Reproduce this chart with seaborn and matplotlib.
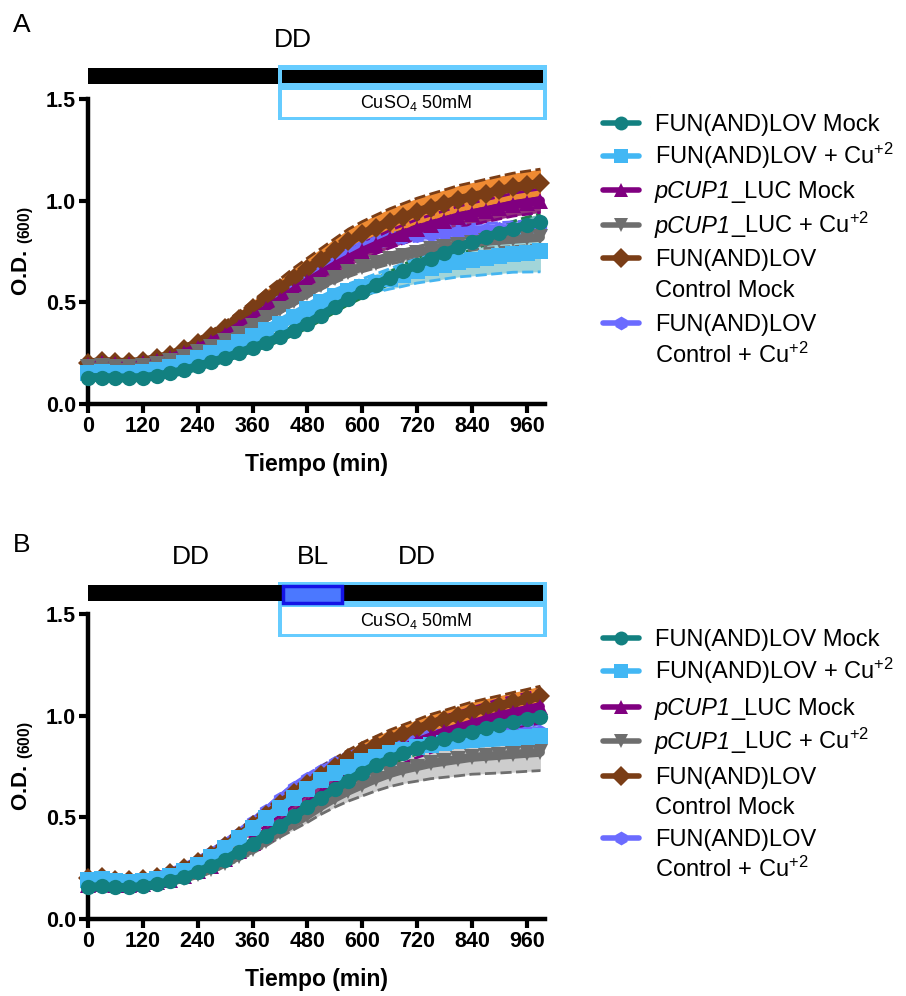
import numpy as np
import pandas as pd
import matplotlib
matplotlib.use("Agg")
import matplotlib.pyplot as plt
import seaborn as sns
from matplotlib.patches import Rectangle
from matplotlib.lines import Line2D
from matplotlib.transforms import blended_transform_factory

sns.set_theme(style="ticks")
plt.rcParams["font.family"] = ["Liberation Sans", "DejaVu Sans"]
plt.rcParams["mathtext.fontset"] = "custom"
plt.rcParams["mathtext.rm"] = "Liberation Sans"
plt.rcParams["mathtext.it"] = "Liberation Sans:italic"
plt.rcParams["mathtext.bf"] = "Liberation Sans:bold"
for k in ["text.color", "axes.labelcolor", "xtick.color", "ytick.color", "axes.edgecolor"]:
    plt.rcParams[k] = "black"

# ---------------- data ----------------
times = [0, 30, 60, 90, 120, 150, 180, 210, 240, 270, 300, 330, 360, 390, 420, 450, 480,
         510, 540, 570, 600, 630, 660, 690, 720, 750, 780, 810, 840, 870, 900, 930, 960, 990]

series = ["FUN(AND)LOV Mock", "FUN(AND)LOV + Cu+2", "pCUP1_LUC Mock",
          "pCUP1_LUC + Cu+2", "FUN(AND)LOV Control Mock", "FUN(AND)LOV Control + Cu+2"]

x_ticks = [0, 120, 240, 360, 480, 600, 720, 840, 960]
y_ticks = [0.0, 0.5, 1.0, 1.5]
y_tick_labels = ["0.0", "0.5", "1.0", "1.5"]

cu_start = 416      # CuSO4 added (min)
bl_start = 427      # blue light pulse (panel B)
bl_end = 556

# Panel A means
A_fun_mock = [0.130, 0.130, 0.128, 0.128, 0.130, 0.138, 0.150, 0.165, 0.185, 0.205, 0.225, 0.250,
              0.275, 0.300, 0.330, 0.360, 0.395, 0.435, 0.475, 0.515, 0.550, 0.585, 0.620, 0.655,
              0.685, 0.715, 0.745, 0.770, 0.795, 0.820, 0.840, 0.860, 0.880, 0.895]
A_fun_cu = [0.150, 0.155, 0.150, 0.150, 0.155, 0.165, 0.180, 0.200, 0.225, 0.250, 0.275, 0.305,
            0.335, 0.365, 0.395, 0.430, 0.465, 0.500, 0.530, 0.555, 0.575, 0.595, 0.615, 0.635,
            0.655, 0.670, 0.685, 0.700, 0.710, 0.720, 0.730, 0.740, 0.745, 0.750]
A_pcup_mock = [0.190, 0.200, 0.195, 0.195, 0.200, 0.210, 0.225, 0.250, 0.275, 0.305, 0.340, 0.380,
               0.420, 0.465, 0.510, 0.555, 0.600, 0.640, 0.680, 0.715, 0.750, 0.780, 0.810, 0.835,
               0.860, 0.880, 0.900, 0.920, 0.935, 0.950, 0.965, 0.980, 0.990, 1.000]
A_pcup_cu = [0.180, 0.185, 0.180, 0.180, 0.185, 0.195, 0.210, 0.230, 0.255, 0.280, 0.310, 0.345,
             0.385, 0.425, 0.465, 0.505, 0.545, 0.585, 0.620, 0.650, 0.675, 0.695, 0.715, 0.730,
             0.745, 0.760, 0.770, 0.780, 0.790, 0.800, 0.805, 0.810, 0.815, 0.820]
A_ctrl_mock = [0.200, 0.210, 0.205, 0.205, 0.210, 0.225, 0.240, 0.270, 0.300, 0.335, 0.375, 0.420,
               0.470, 0.520, 0.570, 0.620, 0.665, 0.710, 0.755, 0.800, 0.835, 0.865, 0.895, 0.920,
               0.945, 0.965, 0.985, 1.005, 1.020, 1.035, 1.050, 1.065, 1.075, 1.085]
A_ctrl_cu = [0.170, 0.175, 0.170, 0.170, 0.175, 0.185, 0.210, 0.235, 0.265, 0.300, 0.340, 0.385,
             0.430, 0.475, 0.520, 0.570, 0.620, 0.665, 0.705, 0.740, 0.770, 0.795, 0.810, 0.822,
             0.830, 0.838, 0.843, 0.848, 0.852, 0.856, 0.860, 0.863, 0.866, 0.870]

# Panel A SDs
A_fun_mock_sd = [0.010, 0.010, 0.010, 0.010, 0.010, 0.011, 0.011, 0.012, 0.013, 0.014, 0.015, 0.016,
                 0.017, 0.018, 0.020, 0.021, 0.022, 0.024, 0.025, 0.026, 0.028, 0.029, 0.030, 0.031,
                 0.032, 0.033, 0.034, 0.035, 0.036, 0.037, 0.038, 0.038, 0.039, 0.040]
A_fun_cu_sd = [0.010, 0.010, 0.010, 0.010, 0.010, 0.011, 0.012, 0.013, 0.014, 0.015, 0.016, 0.018,
               0.020, 0.022, 0.024, 0.026, 0.028, 0.030, 0.033, 0.036, 0.040, 0.045, 0.050, 0.056,
               0.060, 0.065, 0.070, 0.075, 0.080, 0.084, 0.088, 0.092, 0.096, 0.100]
A_pcup_mock_sd = [0.010, 0.010, 0.010, 0.010, 0.010, 0.011, 0.012, 0.013, 0.015, 0.017, 0.019, 0.021,
                  0.023, 0.025, 0.027, 0.029, 0.031, 0.033, 0.035, 0.037, 0.039, 0.041, 0.043, 0.045,
                  0.047, 0.049, 0.050, 0.052, 0.053, 0.054, 0.055, 0.056, 0.057, 0.058]
A_pcup_cu_sd = [0.010, 0.010, 0.010, 0.010, 0.010, 0.010, 0.011, 0.012, 0.013, 0.014, 0.015, 0.016,
                0.017, 0.018, 0.019, 0.020, 0.021, 0.022, 0.023, 0.024, 0.025, 0.026, 0.027, 0.028,
                0.029, 0.030, 0.031, 0.032, 0.033, 0.034, 0.035, 0.036, 0.037, 0.038]
A_ctrl_mock_sd = [0.010, 0.010, 0.010, 0.010, 0.011, 0.012, 0.014, 0.016, 0.020, 0.024, 0.028, 0.032,
                  0.036, 0.040, 0.044, 0.048, 0.052, 0.055, 0.058, 0.060, 0.062, 0.064, 0.065, 0.066,
                  0.067, 0.068, 0.068, 0.069, 0.069, 0.070, 0.070, 0.070, 0.070, 0.070]
A_ctrl_cu_sd = [0.010, 0.010, 0.010, 0.010, 0.010, 0.010, 0.011, 0.012, 0.013, 0.014, 0.015, 0.016,
                0.017, 0.018, 0.019, 0.020, 0.021, 0.022, 0.023, 0.024, 0.025, 0.026, 0.027, 0.028,
                0.029, 0.030, 0.030, 0.031, 0.031, 0.032, 0.032, 0.033, 0.033, 0.034]

# Panel B means
B_fun_mock = [0.155, 0.160, 0.155, 0.155, 0.160, 0.170, 0.185, 0.205, 0.230, 0.260, 0.290, 0.330,
              0.370, 0.410, 0.455, 0.505, 0.550, 0.595, 0.640, 0.680, 0.720, 0.755, 0.785, 0.815,
              0.840, 0.865, 0.885, 0.905, 0.920, 0.940, 0.955, 0.970, 0.985, 0.995]
B_fun_cu = [0.190, 0.195, 0.185, 0.180, 0.185, 0.195, 0.210, 0.235, 0.265, 0.305, 0.350, 0.400,
            0.450, 0.495, 0.545, 0.595, 0.640, 0.685, 0.720, 0.750, 0.775, 0.795, 0.815, 0.830,
            0.845, 0.855, 0.865, 0.875, 0.880, 0.885, 0.890, 0.892, 0.895, 0.898]
B_pcup_mock = [0.165, 0.170, 0.165, 0.165, 0.170, 0.180, 0.190, 0.210, 0.235, 0.260, 0.295, 0.335,
               0.375, 0.420, 0.465, 0.510, 0.560, 0.610, 0.655, 0.700, 0.740, 0.780, 0.810, 0.840,
               0.870, 0.895, 0.920, 0.940, 0.960, 0.980, 1.000, 1.015, 1.030, 1.045]
B_pcup_cu = [0.170, 0.175, 0.170, 0.165, 0.170, 0.175, 0.185, 0.200, 0.220, 0.245, 0.275, 0.310,
             0.345, 0.385, 0.430, 0.470, 0.510, 0.555, 0.595, 0.630, 0.660, 0.690, 0.715, 0.735,
             0.750, 0.765, 0.775, 0.785, 0.795, 0.800, 0.805, 0.810, 0.815, 0.820]
B_ctrl_mock = [0.200, 0.205, 0.190, 0.190, 0.195, 0.205, 0.225, 0.250, 0.280, 0.315, 0.360, 0.410,
               0.460, 0.510, 0.565, 0.620, 0.665, 0.710, 0.750, 0.790, 0.825, 0.855, 0.885, 0.910,
               0.935, 0.960, 0.980, 1.000, 1.020, 1.035, 1.050, 1.065, 1.080, 1.095]
B_ctrl_cu = [0.190, 0.200, 0.190, 0.190, 0.195, 0.210, 0.230, 0.255, 0.285, 0.325, 0.370, 0.420,
             0.475, 0.530, 0.590, 0.645, 0.690, 0.730, 0.765, 0.795, 0.820, 0.840, 0.860, 0.875,
             0.885, 0.895, 0.900, 0.905, 0.910, 0.912, 0.915, 0.917, 0.920, 0.922]

# Panel B SDs
B_fun_mock_sd = [0.010, 0.010, 0.010, 0.010, 0.010, 0.011, 0.011, 0.012, 0.013, 0.014, 0.015, 0.016,
                 0.017, 0.018, 0.019, 0.020, 0.021, 0.022, 0.023, 0.024, 0.025, 0.026, 0.027, 0.028,
                 0.029, 0.030, 0.031, 0.032, 0.033, 0.034, 0.035, 0.035, 0.036, 0.036]
B_fun_cu_sd = [0.010, 0.010, 0.010, 0.010, 0.010, 0.010, 0.011, 0.012, 0.013, 0.014, 0.015, 0.016,
               0.017, 0.018, 0.019, 0.020, 0.021, 0.022, 0.023, 0.024, 0.025, 0.026, 0.027, 0.028,
               0.029, 0.030, 0.031, 0.032, 0.033, 0.034, 0.035, 0.036, 0.037, 0.038]
B_pcup_mock_sd = [0.010, 0.010, 0.010, 0.010, 0.010, 0.012, 0.014, 0.016, 0.019, 0.022, 0.026, 0.030,
                  0.035, 0.040, 0.045, 0.050, 0.055, 0.060, 0.064, 0.067, 0.070, 0.072, 0.074, 0.075,
                  0.076, 0.077, 0.078, 0.078, 0.079, 0.079, 0.080, 0.080, 0.080, 0.080]
B_pcup_cu_sd = [0.010, 0.010, 0.010, 0.010, 0.010, 0.011, 0.012, 0.013, 0.014, 0.016, 0.018, 0.020,
                0.022, 0.025, 0.028, 0.031, 0.035, 0.040, 0.045, 0.050, 0.055, 0.060, 0.064, 0.068,
                0.072, 0.075, 0.078, 0.081, 0.083, 0.085, 0.087, 0.088, 0.089, 0.090]
B_ctrl_mock_sd = [0.010, 0.010, 0.010, 0.010, 0.010, 0.011, 0.012, 0.014, 0.016, 0.018, 0.021, 0.024,
                  0.027, 0.030, 0.033, 0.035, 0.037, 0.039, 0.040, 0.041, 0.042, 0.043, 0.044, 0.045,
                  0.045, 0.046, 0.046, 0.047, 0.047, 0.048, 0.048, 0.049, 0.049, 0.050]
B_ctrl_cu_sd = [0.010, 0.010, 0.010, 0.010, 0.010, 0.011, 0.012, 0.013, 0.014, 0.015, 0.016, 0.017,
                0.018, 0.019, 0.020, 0.021, 0.022, 0.023, 0.024, 0.025, 0.026, 0.027, 0.028, 0.029,
                0.030, 0.030, 0.031, 0.031, 0.032, 0.032, 0.033, 0.033, 0.034, 0.034]

A_means = [A_fun_mock, A_fun_cu, A_pcup_mock, A_pcup_cu, A_ctrl_mock, A_ctrl_cu]
A_sds = [A_fun_mock_sd, A_fun_cu_sd, A_pcup_mock_sd, A_pcup_cu_sd, A_ctrl_mock_sd, A_ctrl_cu_sd]
B_means = [B_fun_mock, B_fun_cu, B_pcup_mock, B_pcup_cu, B_ctrl_mock, B_ctrl_cu]
B_sds = [B_fun_mock_sd, B_fun_cu_sd, B_pcup_mock_sd, B_pcup_cu_sd, B_ctrl_mock_sd, B_ctrl_cu_sd]

# ---------------- styles ----------------
line_colors = ["#128080", "#42b7f4", "#800080", "#6e6e6e", "#7a3d16", "#6b6bff"]
fill_colors = ["#70b8b8", "#a2d5d9", "#93307f", "#cdcdcd", "#ef8a32", "#a0a0ff"]
dash_colors = ["#1b7f48", "#45b5f0", "#800080", "#6e6e6e", "#7a3d16", "#6b6bff"]
markers = ["o", "s", "^", "v", "D", "h"]
msizes = [11, 11, 11, 11, 10, 11]
band_order = [0, 5, 2, 3, 1, 4]
line_order = [5, 4, 2, 3, 1, 0]

legend_lines = [
    [("", "FUN(AND)LOV Mock")],
    [("", "FUN(AND)LOV + Cu$^{+2}$")],
    [("pCUP1", "_LUC Mock")],
    [("pCUP1", "_LUC + Cu$^{+2}$")],
    [("", "FUN(AND)LOV"), ("", "Control Mock")],
    [("", "FUN(AND)LOV"), ("", "Control + Cu$^{+2}$")],
]
legend_rows_A = [[123], [156], [190], [225], [258, 289], [323, 355]]
legend_rows_B = [[638], [671], [707], [741], [776, 806], [838, 869]]

W, H = 906, 996
def fx(px):
    return px / W
def fy(py):
    return 1 - py / H

fig = plt.figure(figsize=(W / 100, H / 100), dpi=100)
renderer = fig.canvas.get_renderer()

def legend_text(px, py, it_part, rest):
    x = fx(px)
    if it_part:
        t = fig.text(x, fy(py + 8), it_part, fontsize=17, style="italic", va="baseline", ha="left")
        bb = t.get_window_extent(renderer)
        x = bb.x1 / W
    fig.text(x, fy(py + 8), rest, fontsize=17, va="baseline", ha="left")

def draw_panel(ax_rect, means, sds, legend_rows):
    ax = fig.add_axes(ax_rect)
    t = np.array(times)
    for i in band_order:
        m = np.array(means[i]); s = np.array(sds[i])
        ax.fill_between(t, m - s, m + s, color=fill_colors[i], lw=0, zorder=1, clip_on=False)
    for i in band_order:
        m = np.array(means[i]); s = np.array(sds[i])
        for yy in (m - s, m + s):
            ax.plot(t, yy, color=dash_colors[i], lw=2, ls=(0, (4, 1.6)), zorder=2, clip_on=False)
    for i in line_order:
        df = pd.DataFrame({"time": times, "od": means[i], "series": series[i]})
        sns.lineplot(data=df, x="time", y="od", color=line_colors[i], marker=markers[i],
                     markersize=msizes[i], markeredgewidth=0, linewidth=6.5, errorbar=None,
                     legend=False, ax=ax, zorder=3)
    for ln in ax.lines:
        ln.set_clip_on(False)
    ax.set_xlim(0, 1000)
    ax.set_ylim(0, 1.5)
    ax.set_xticks(x_ticks)
    ax.set_xticklabels([str(v) for v in x_ticks])
    ax.set_yticks(y_ticks)
    ax.set_yticklabels(y_tick_labels)
    for sp in ["top", "right"]:
        ax.spines[sp].set_visible(False)
    for sp in ["left", "bottom"]:
        ax.spines[sp].set_linewidth(3.2)
        ax.spines[sp].set_color("black")
    ax.tick_params(width=3, length=6.5, labelsize=15.5, color="black", labelcolor="black", pad=2)
    for lab in ax.get_xticklabels() + ax.get_yticklabels():
        lab.set_fontweight("bold")
    ax.set_xlabel("Tiempo (min)", fontsize=16.5, fontweight="bold", labelpad=12, color="black")
    ax.set_ylabel(r"O.D. $_{\mathbf{(600)}}$", fontsize=16, fontweight="bold", labelpad=7,
                  color="black")
    for i in range(6):
        y0 = legend_rows[i][0]
        fig.add_artist(Line2D([fx(603), fx(639)], [fy(y0), fy(y0)], color=line_colors[i],
                              lw=4, transform=fig.transFigure))
        fig.add_artist(Line2D([fx(621)], [fy(y0)], color=line_colors[i], marker=markers[i],
                              markersize=10, markeredgewidth=0, transform=fig.transFigure))
        for (it_part, rest), yy in zip(legend_lines[i], legend_rows[i]):
            legend_text(655, yy, it_part, rest)
    return ax

def yfrac(ax_bottom_px, py):
    return (ax_bottom_px - py) / 305.0

# ---------- Panel A ----------
axA = draw_panel([fx(88), fy(404), 457 / W, 305 / H], A_means, A_sds, legend_rows_A)
trA = blended_transform_factory(axA.transData, axA.transAxes)
axA.add_patch(Rectangle((0, yfrac(404, 84)), cu_start, yfrac(404, 68) - yfrac(404, 84),
                        transform=trA, color="black", clip_on=False, lw=0))
axA.add_patch(Rectangle((cu_start, yfrac(404, 120)), 1004 - cu_start, yfrac(404, 65) - yfrac(404, 120),
                        transform=trA, facecolor="#66ccff", lw=0, clip_on=False))
axA.add_patch(Rectangle((cu_start + 9, yfrac(404, 83)), 995 - cu_start - 9, yfrac(404, 70) - yfrac(404, 83),
                        transform=trA, facecolor="black", lw=0, clip_on=False))
axA.add_patch(Rectangle((cu_start + 9, yfrac(404, 117)), 995 - cu_start - 9, yfrac(404, 90) - yfrac(404, 117),
                        transform=trA, facecolor="white", lw=0, clip_on=False))
fig.text(fx(416), fy(103), "CuSO$_4$ 50mM", fontsize=13, ha="center", va="center")
fig.text(fx(293), fy(40), "DD", fontsize=19, ha="center", va="center")
fig.text(fx(22), fy(25), "A", fontsize=19, ha="center", va="center")

# ---------- Panel B ----------
axB = draw_panel([fx(88), fy(919), 457 / W, 305 / H], B_means, B_sds, legend_rows_B)
trB = blended_transform_factory(axB.transData, axB.transAxes)
axB.add_patch(Rectangle((cu_start, yfrac(919, 637)), 1004 - cu_start, yfrac(919, 582) - yfrac(919, 637),
                        transform=trB, facecolor="#66ccff", lw=0, clip_on=False))
axB.add_patch(Rectangle((0, yfrac(919, 601)), 995, yfrac(919, 585) - yfrac(919, 601),
                        transform=trB, color="black", clip_on=False, lw=0))
axB.add_patch(Rectangle((cu_start + 9, yfrac(919, 634)), 995 - cu_start - 9, yfrac(919, 607) - yfrac(919, 634),
                        transform=trB, facecolor="white", lw=0, clip_on=False))
axB.add_patch(Rectangle((bl_start, yfrac(919, 603)), bl_end - bl_start, yfrac(919, 586) - yfrac(919, 603),
                        transform=trB, facecolor="#4b78ff", edgecolor="#1414e6", lw=2.5, clip_on=False))
fig.text(fx(416), fy(621), "CuSO$_4$ 50mM", fontsize=13, ha="center", va="center")
fig.text(fx(191), fy(557), "DD", fontsize=19, ha="center", va="center")
fig.text(fx(313), fy(557), "BL", fontsize=19, ha="center", va="center")
fig.text(fx(417), fy(557), "DD", fontsize=19, ha="center", va="center")
fig.text(fx(22), fy(545), "B", fontsize=19, ha="center", va="center")

fig.savefig("out.png", dpi=100)
